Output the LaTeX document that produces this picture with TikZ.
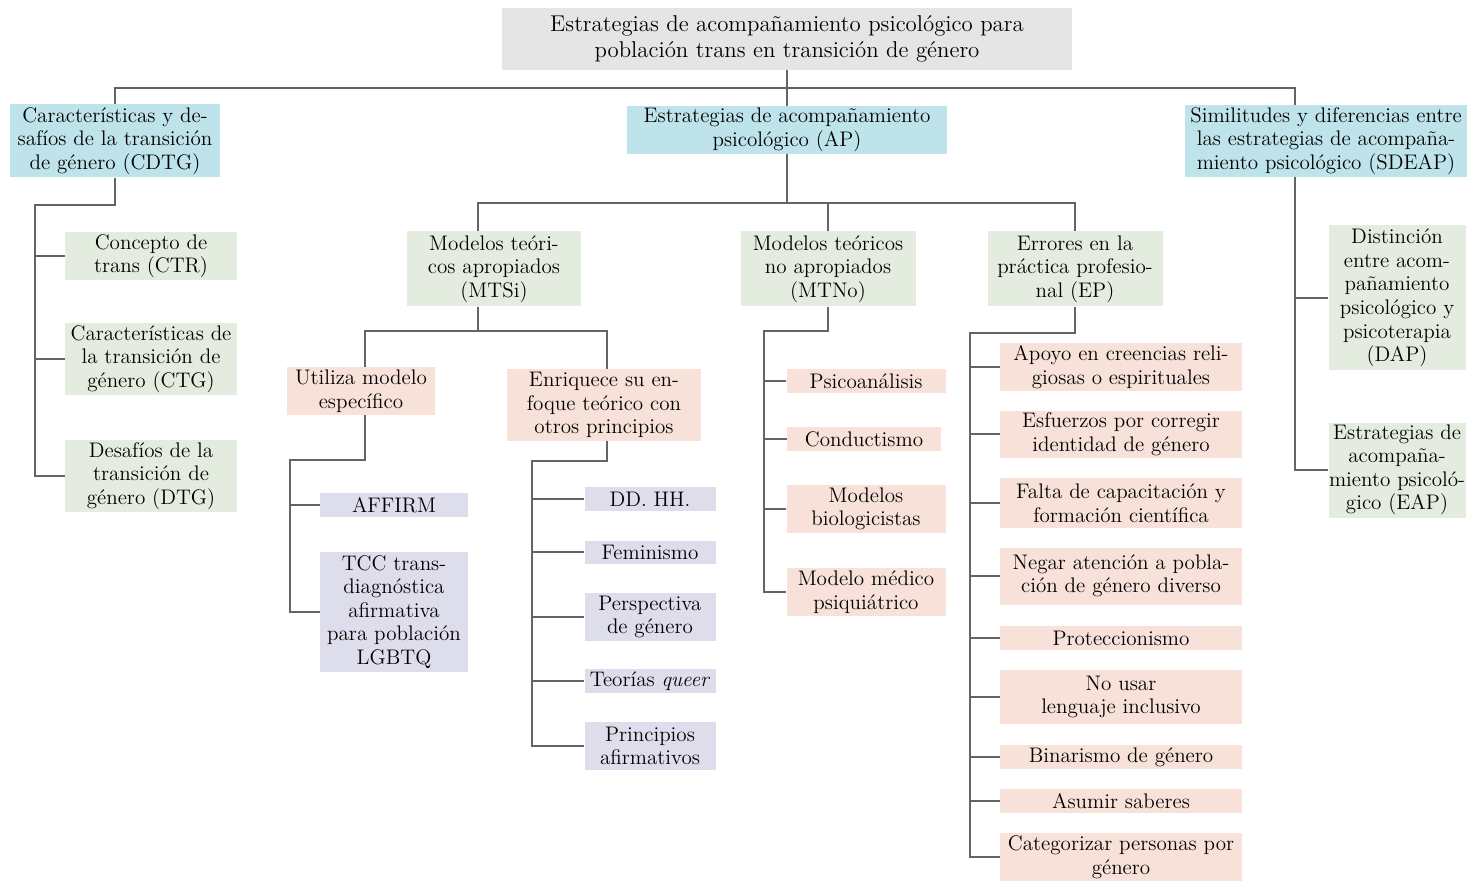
\documentclass[tikz,border=0pt]{standalone}
\usepackage[rgb]{xcolor}
\usepackage{tikz}

\definecolor{titlegray}{RGB}{229,229,229}
\definecolor{catblue}{RGB}{190,227,234}
\definecolor{subgreen}{RGB}{228,236,224}
\definecolor{itempink}{RGB}{247,225,216}
\definecolor{itemlav}{RGB}{221,221,235}
\definecolor{linegray}{RGB}{100,100,100}

\tikzset{
  box/.style={inner sep=0pt, align=center, font=\fontsize{12}{13.4}\selectfont},
  sz/.style 2 args={minimum width=#1*0.02cm, minimum height=#2*0.02cm},
  titlebox/.style={box, fill=titlegray, font=\fontsize{13}{14.8}\selectfont},
  catbox/.style={box, fill=catblue},
  subbox/.style={box, fill=subgreen},
  pinkbox/.style={box, fill=itempink},
  lavbox/.style={box, fill=itemlav},
  link/.style={draw=linegray, line width=1.1pt}
}

\begin{document}
\begin{tikzpicture}[x=0.02cm, y=-0.02cm]

\useasboundingbox (0,0) rectangle (1479,881);

% title and the three main categories
\path
(787,39) node (title) [titlebox, sz={570}{62}]
  {Estrategias de acompañamiento psicológico para\\población trans en transición de género}
(115,141) node (cdtg) [catbox, sz={210}{73}]
  {Características y de-\\safíos de la transición\\de género (CDTG)}
(787,130) node (ap) [catbox, sz={320}{48}]
  {Estrategias de acompañamiento\\psicológico (AP)}
(1326,141) node (sdeap) [catbox, sz={282}{72}]
  {Similitudes y diferencias entre\\las estrategias de acompaña-\\miento psicológico (SDEAP)};

\coordinate (bus) at (787,88);
\coordinate (sdx) at (1295,88);
\draw [link] (title.south) -- (bus) -- (ap.north);
\draw [link] (cdtg.north) |- (sdx) -- (sdx |- sdeap.north);

%% CDTG
\path
(151,256) node (ctr) [subbox, sz={172}{48}] {Concepto de\\trans (CTR)}
(151,359) node (ctg) [subbox, sz={172}{72}] {Características de\\la transición de\\género (CTG)}
(151,476) node (dtg) [subbox, sz={172}{72}] {Desafíos de la\\transición de\\género (DTG)};

\coordinate (s1) at (35,205);
\draw [link] (cdtg.south) |- (s1) |- (dtg.west);
\foreach \n in {ctr, ctg}
  {
    \draw [link] (s1 |- \n.west) -- (\n.west);
  }

%% AP
\path
(494,269) node (mtsi) [subbox, sz={174}{75}] {Modelos teóri-\\cos apropiados\\(MTSi)}
(828,269) node (mtno) [subbox, sz={175}{75}] {Modelos teóricos\\no apropiados\\(MTNo)}
(1075,269) node (ep) [subbox, sz={175}{75}] {Errores en la\\práctica profesio-\\nal (EP)};

\coordinate (apbus) at (787,203);
\draw [link] (ap.south) -- (apbus);
\draw [link] ([xshift=-0.32cm]mtsi.north) |- (ep.north |- apbus) -- (ep.north);
\draw [link] (mtno.north |- apbus) -- (mtno.north);

% MTSi
\path
(361,391) node (util) [pinkbox, sz={148}{48}] {Utiliza modelo\\específico}
(604,405) node (enriq) [pinkbox, sz={194}{72}] {Enriquece su en-\\foque teórico con\\otros principios};

\coordinate (s2) at (478,331);
\draw [link] ([xshift=-0.32cm]mtsi.south) -- (s2);
\draw [link] ([xshift=0.08cm]util.north) |- (s2) -| ([xshift=0.06cm]enriq.north);

\path
(394,505) node (affirm) [lavbox, sz={148}{24}] {AFFIRM}
(394,612) node (tcc) [lavbox, sz={148}{120}] {TCC trans-\\diagnóstica\\afirmativa\\para población\\LGBTQ};

\coordinate (s3) at (290,460);
\draw [link] ([xshift=0.08cm]util.south) |- (s3) |- (tcc.west);
\draw [link] (s3 |- affirm.west) -- (affirm.west);

\path
(650,499) node (ddhh) [lavbox, sz={131}{24}] {DD. HH.}
(650,552) node (femi) [lavbox, sz={131}{23}] {Feminismo}
(650,617) node (persp) [lavbox, sz={131}{48}] {Perspectiva\\de género}
(650,681) node (queer) [lavbox, sz={131}{24}] {Teorías \emph{queer}}
(650,746) node (princ) [lavbox, sz={131}{48}] {Principios\\afirmativos};

\coordinate (s4) at (532,461);
\draw [link] ([xshift=0.06cm]enriq.south) |- (s4) |- (princ.west);
\foreach \n in {ddhh, femi, persp, queer}
  {
    \draw [link] (s4 |- \n.west) -- (\n.west);
  }

% MTNo
\path
(866,381) node (psico) [pinkbox, sz={159}{24}] {Psicoanálisis}
(864,439) node (cond) [pinkbox, sz={154}{24}] {Conductismo}
(866,509) node (bio) [pinkbox, sz={159}{48}] {Modelos\\biologicistas}
(866,592) node (medico) [pinkbox, sz={159}{48}] {Modelo médico\\psiquiátrico};

\coordinate (s5) at (764,331);
\draw [link] (mtno.south) |- (s5) |- (medico.west);
\foreach \n in {psico, cond, bio}
  {
    \draw [link] (s5 |- \n.west) -- (\n.west);
  }

% EP
\path
(1121,367) node (apoyo) [pinkbox, sz={242}{48}] {Apoyo en creencias reli-\\giosas o espirituales}
(1121,434) node (esf) [pinkbox, sz={242}{47}] {Esfuerzos por corregir\\identidad de género}
(1121,503) node (falta) [pinkbox, sz={242}{50}] {Falta de capacitación y\\formación científica}
(1121,576) node (negar) [pinkbox, sz={242}{57}] {Negar atención a pobla-\\ción de género diverso}
(1121,638) node (prot) [pinkbox, sz={242}{24}] {Proteccionismo}
(1121,697) node (nousar) [pinkbox, sz={242}{54}] {No usar\\lenguaje inclusivo}
(1121,757) node (binar) [pinkbox, sz={242}{24}] {Binarismo de género}
(1121,801) node (asumir) [pinkbox, sz={242}{24}] {Asumir saberes}
(1121,857) node (categ) [pinkbox, sz={242}{48}] {Categorizar personas por\\género};

\coordinate (s6) at (970,333);
\draw [link] (ep.south) |- (s6) |- (categ.west);
\foreach \n in {apoyo, esf, falta, negar, prot, nousar, binar, asumir}
  {
    \draw [link] (s6 |- \n.west) -- (\n.west);
  }

%% SDEAP
\path
(1397,298) node (dap) [subbox, sz={137}{145}]
  {Distinción\\entre acom-\\pañamiento\\psicológico y\\psicoterapia\\(DAP)}
(1397,470) node (eap) [subbox, sz={137}{95}]
  {Estrategias de\\acompaña-\\miento psicoló-\\gico (EAP)};

\draw [link] (sdx |- sdeap.south) |- (eap.west);
\draw [link] (sdx |- dap.west) -- (dap.west);

\end{tikzpicture}
\end{document}
